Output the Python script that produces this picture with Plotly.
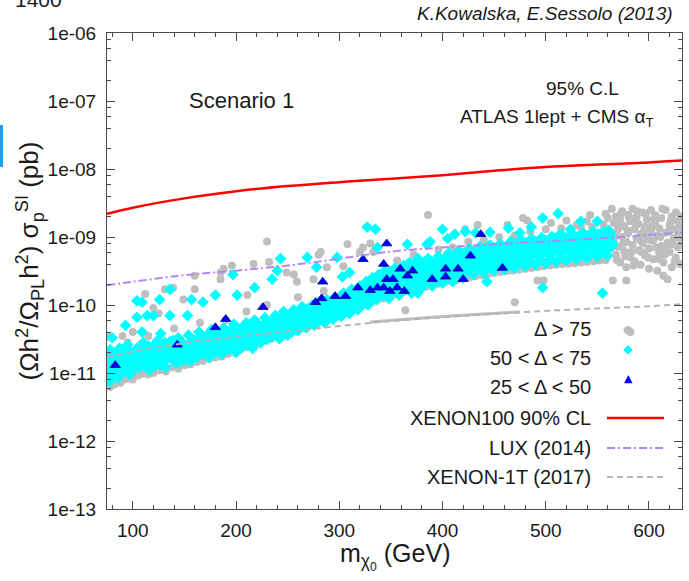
import plotly.graph_objects as go

# ---------------- data ----------------
# Delta > 75 (grey circles): (neutralino mass GeV, scaled sigma_p^SI pb)
gray_pts = [
    (75,6.5e-12),(76,8e-12),(78,6.2e-12),(80,7e-12),(82,6.8e-12),(85,7.6e-12),(88,7.2e-12),(92,8.0e-12),
    (96,8.4e-12),(100,8.0e-12),(105,9.2e-12),(110,9.8e-12),(115,9.5e-12),(120,1.0e-11),(126,1.1e-11),
    (132,1.05e-11),(138,1.2e-11),(144,1.15e-11),(150,1.3e-11),(156,1.35e-11),(162,1.45e-11),(168,1.5e-11),
    (174,1.6e-11),(180,1.7e-11),(186,1.75e-11),(192,1.9e-11),(198,2.0e-11),(204,2.2e-11),(210,2.4e-11),
    (216,2.5e-11),(222,2.7e-11),(228,3.0e-11),(234,3.2e-11),(240,3.4e-11),(246,3.7e-11),(252,4.0e-11),
    (258,4.2e-11),(264,4.6e-11),(270,5.0e-11),(276,5.4e-11),(282,5.8e-11),(288,6.4e-11),(294,7.0e-11),
    (300,7.4e-11),(306,8.0e-11),(312,8.6e-11),(318,9.2e-11),(324,1.0e-10),(330,1.08e-10),(336,1.15e-10),
    (342,1.25e-10),(348,1.35e-10),(354,1.45e-10),(360,1.5e-10),(366,1.6e-10),(372,1.65e-10),(378,1.75e-10),
    (384,1.85e-10),(390,1.95e-10),(396,2.05e-10),(402,2.15e-10),(408,2.25e-10),(414,2.35e-10),(420,2.45e-10),
    (426,2.55e-10),(432,2.65e-10),(438,2.75e-10),(444,2.85e-10),(450,2.95e-10),(456,3.05e-10),(462,3.15e-10),
    (468,3.2e-10),(474,3.3e-10),(480,3.4e-10),(486,3.5e-10),(492,3.6e-10),(498,3.7e-10),(504,3.8e-10),
    (510,3.9e-10),(516,4.0e-10),(522,4.05e-10),(528,4.1e-10),(534,4.2e-10),(540,4.3e-10),(546,4.4e-10),
    (552,4.5e-10),(558,4.6e-10),
    (76,3.4e-11),(112,1.45e-10),(131,1.7e-10),(139,1.8e-10),(120,9e-11),(125,7.5e-11),(149,1.2e-10),
    (160,2.7e-10),(160,1.7e-10),(185,3.0e-10),(188,3.4e-10),(185,2.4e-10),(196,3.8e-10),(211,1.4e-10),
    (217,4.0e-10),(230,8.6e-10),(232,4.3e-10),(249,3.0e-10),(256,2.8e-10),(259,2.2e-10),(275,2.4e-10),
    (280,5.5e-10),(282,6.0e-10),(288,3.6e-10),(304,3.7e-10),(308,7.8e-10),(320,6.0e-10),(323,7.0e-10),
    (330,8.0e-10),(333,6.0e-10),(306,7.7e-11),(386,2.1e-09),(422,1.3e-09),(434,1.5e-09),(463,1.5e-09),
    (478,1.9e-09),(482,1.75e-09),(364,8.4e-11),(470,1.1e-10),(492,2.3e-10),(498,2.3e-10),(543,2.1e-09),
    (534,1.4e-09),(565,2.3e-10),(578,2.3e-10),(582,4.0e-11),
    (356,4.5e-10),(372,5.5e-10),(396,6.5e-10),(410,7.0e-10),(425,8.5e-10),(440,9.0e-10),(455,1.0e-09),
    (470,1.05e-09),(485,1.2e-09),(500,1.3e-09),(515,1.35e-09),(530,1.5e-09),(545,1.4e-09),(540,1.7e-09),
    (520,1.75e-09),(505,1.6e-09),
    (90,3.5e-11),(100,4e-11),(95,2.8e-11),(115,3.5e-11),(140,4.5e-11),(165,5.5e-11),(190,6e-11),
    (210,8e-11),(230,1.0e-10),(260,1.3e-10),(285,1.6e-10),
    (556,1.5e-09),(558,2.2e-09),(560,1.9e-09),(562,1.2e-09),(564,2.6e-09),(566,1.6e-09),(566,9e-10),
    (568,2.0e-09),(568,5.5e-10),(570,1.3e-09),(570,7.2e-10),(572,4.2e-10),(572,1.8e-09),(574,1.0e-09),
    (574,2.4e-09),(576,6.2e-10),(576,1.45e-09),(578,3.6e-10),(578,8.5e-10),(580,2.1e-09),(580,1.15e-09),
    (582,5.0e-10),(582,1.7e-09),(584,7.6e-10),(584,2.6e-09),(586,1.3e-09),(586,4.4e-10),(588,9.6e-10),
    (588,2.0e-09),(590,6.4e-10),(590,1.55e-09),(592,3.9e-10),(592,1.1e-09),(594,2.3e-09),(594,8.0e-10),
    (596,5.4e-10),(596,1.4e-09),(598,1.8e-09),(598,1.0e-09),(600,3.4e-10),(600,6.8e-10),(602,2.5e-09),
    (602,1.25e-09),(604,4.7e-10),(604,8.8e-10),(606,1.6e-09),(606,2.1e-09),(608,3.2e-10),(608,1.05e-09),
    (610,5.8e-10),(610,1.35e-09),(612,7.4e-10),(612,1.9e-09),(614,2.7e-10),(614,4.2e-10),(616,1.15e-09),
    (616,2.5e-09),(618,8.2e-10),(618,2.4e-10),(620,1.5e-09),(620,6.0e-10),(622,2.0e-09),(622,3.6e-10),
    (624,9.6e-10),(624,1.3e-09),(626,5.0e-10),(626,2.3e-09),(628,1.7e-09),(628,7.0e-10),(630,1.1e-09),
    (630,4.0e-10),(631,2.0e-09),(631,8.5e-10),
    (563,7.0e-10),(567,1.1e-09),(571,1.5e-09),(575,8.0e-10),(579,1.25e-09),(583,6.0e-10),(587,1.65e-09),
    (591,9.0e-10),(595,1.2e-09),(599,5.0e-10),(603,1.45e-09),(607,7.0e-10),(611,1.0e-09),(615,5.5e-10),
    (619,1.2e-09),(623,7.8e-10),(627,1.0e-09),(629,1.4e-09),(569,4.6e-10),(577,5.2e-10),(585,3.8e-10),
    (593,6.0e-10),(601,9.0e-10),(609,4.8e-10),(617,6.6e-10),(625,4.4e-10),(573,2.2e-09),(589,2.4e-09),
    (605,1.9e-09),(621,1.7e-09),(613,2.6e-09),(597,2.2e-09),(581,1.9e-09),
]

# dense row of grey points along the lower edge (looks like a solid segment)
gray_row_mass = [330, 360, 400, 440, 475]
gray_row_sigma = [5.6e-11, 6.1e-11, 6.8e-11, 7.4e-11, 7.9e-11]

# 50 < Delta < 75 (cyan diamonds)
cyan_pts = [
    (76,1.0e-11),(77,1.5e-11),(78,2.2e-11),(78,7.5e-12),(79,1.2e-11),(80,1.8e-11),(81,9e-12),(82,1.4e-11),
    (83,2.0e-11),(84,1.1e-11),(85,1.6e-11),(86,8.5e-12),(87,2.3e-11),(88,1.3e-11),(89,1.8e-11),(90,1.0e-11),
    (92,1.5e-11),(93,2.1e-11),(94,1.2e-11),(95,2.6e-11),(96,1.7e-11),(97,9.5e-12),(98,1.35e-11),(99,2.0e-11),
    (100,1.1e-11),
    (80,3.3e-11),(93,5e-11),(104,1.15e-10),(109,1.1e-10),(104,6.6e-11),(114,7e-11),(109,4e-11),(126,1.2e-10),
    (136,1.7e-10),(120,7e-11),(127,3.8e-11),(136,7e-11),(153,7e-11),(157,1.2e-10),(168,1.1e-10),(180,1.4e-10),
    (197,2.8e-10),(201,1.4e-10),(218,1.8e-10),(235,2.4e-10),(240,3.2e-10),(243,4.8e-10),(269,5e-10),
    (278,3.6e-10),(298,5e-10),(303,2.6e-10),(310,3e-10),(327,1.4e-09),(335,1.3e-09),(337,7e-10),
    (400,1.3e-09),(405,9.5e-10),(412,1.1e-09),(422,1.2e-09),(432,1.15e-09),(446,1.17e-09),(464,1.35e-09),
    (475,1.15e-09),(486,1.4e-09),(497,1.9e-09),(512,2.2e-09),(514,1.1e-09),(524,1.3e-09),(534,1.7e-09),
    (550,1.7e-09),(561,1.25e-09),(385,7.8e-10),(388,8.5e-10),(366,7.8e-10),(376,4.8e-10),(443,2.2e-10),
    (497,1.8e-10),(555,1.5e-10),(376,1.5e-10),
    (102,1.6e-11),(104,2.3e-11),(106,1.2e-11),(108,1.9e-11),(110,2.8e-11),(112,1.4e-11),(114,2.1e-11),
    (116,1.1e-11),(118,1.7e-11),(120,2.5e-11),(122,1.3e-11),(124,3.0e-11),(126,1.9e-11),(128,1.5e-11),
    (130,2.4e-11),(132,1.2e-11),(134,2.0e-11),(136,2.9e-11),(138,1.6e-11),(140,2.3e-11),(142,1.4e-11),
    (144,3.3e-11),(146,2.0e-11),(148,1.5e-11),(150,2.6e-11),
    (152,1.8e-11),(154,3.6e-11),(156,1.5e-11),(158,2.2e-11),(160,3.0e-11),(162,1.7e-11),(164,4.0e-11),
    (166,2.5e-11),(168,1.9e-11),(170,3.3e-11),(172,2.1e-11),(174,1.7e-11),(176,4.3e-11),(178,2.8e-11),
    (180,2.0e-11),(182,3.6e-11),(184,2.4e-11),(186,1.9e-11),(188,4.6e-11),(190,3.0e-11),(192,2.2e-11),
    (194,3.9e-11),(196,2.6e-11),(198,5.2e-11),(200,2.0e-11),
    (202,3.3e-11),(204,4.4e-11),(206,2.4e-11),(208,3.7e-11),(210,5.5e-11),(212,2.7e-11),(214,4.1e-11),
    (216,2.3e-11),(218,6.0e-11),(220,3.4e-11),(222,4.8e-11),(224,2.8e-11),(226,3.9e-11),(228,6.5e-11),
    (230,3.1e-11),(232,4.5e-11),(234,5.5e-11),(236,3.5e-11),(238,7.0e-11),(240,4.2e-11),(242,3.2e-11),
    (244,5.8e-11),(246,8.0e-11),(248,4.6e-11),(250,3.6e-11),
    (252,6.5e-11),(254,4.0e-11),(256,8.5e-11),(258,5.2e-11),(260,4.2e-11),(262,7.2e-11),(264,9.5e-11),
    (266,5.6e-11),(268,4.6e-11),(270,8.0e-11),(272,6.2e-11),(274,1.0e-10),(276,5.0e-11),(278,7.0e-11),
    (280,1.1e-10),(282,6.0e-11),(284,8.8e-11),(286,5.5e-11),(288,1.2e-10),(290,7.5e-11),(292,9.5e-11),
    (294,6.2e-11),(296,1.3e-10),(298,8.2e-11),(300,1.05e-10),
    (302,6.8e-11),(304,1.5e-10),(306,9.0e-11),(308,1.2e-10),(310,7.5e-11),(312,1.7e-10),(314,1.0e-10),
    (316,1.35e-10),(318,8.5e-11),(320,1.9e-10),(322,1.15e-10),(324,1.5e-10),(326,2.2e-10),(328,1.0e-10),
    (330,1.3e-10),(332,2.5e-10),(334,1.7e-10),(336,1.2e-10),(338,2.8e-10),(340,1.9e-10),(342,1.4e-10),
    (344,3.2e-10),(346,2.2e-10),(348,1.25e-10),(350,2.6e-10),
    (352,1.6e-10),(354,3.5e-10),(356,2.0e-10),(358,1.4e-10),(360,2.9e-10),(362,3.8e-10),(364,1.7e-10),
    (366,2.4e-10),(368,4.2e-10),(370,1.5e-10),(372,3.1e-10),(374,2.0e-10),(376,4.5e-10),(378,2.6e-10),
    (380,1.8e-10),(382,3.5e-10),(384,2.2e-10),(386,4.8e-10),(388,2.9e-10),(390,1.9e-10),(392,4.0e-10),
    (394,2.5e-10),(396,5.2e-10),(398,3.2e-10),(400,2.1e-10),
    (402,4.4e-10),(404,2.7e-10),(406,5.8e-10),(408,3.5e-10),(410,2.2e-10),(412,4.8e-10),(414,3.0e-10),
    (416,6.2e-10),(418,3.8e-10),(420,2.5e-10),(422,5.2e-10),(424,3.3e-10),(426,6.8e-10),(428,4.2e-10),
    (430,2.8e-10),(432,5.6e-10),(434,3.6e-10),(436,7.2e-10),(438,4.5e-10),(440,3.0e-10),(442,6.0e-10),
    (444,3.9e-10),(446,7.6e-10),(448,4.8e-10),(450,3.2e-10),
    (452,6.4e-10),(454,4.1e-10),(456,8.0e-10),(458,5.1e-10),(460,3.3e-10),(462,6.8e-10),(464,4.4e-10),
    (466,8.6e-10),(468,5.4e-10),(470,3.5e-10),(472,7.2e-10),(474,4.6e-10),(476,9.0e-10),(478,5.7e-10),
    (480,3.7e-10),(482,7.6e-10),(484,4.9e-10),(486,9.4e-10),(488,6.0e-10),(490,3.9e-10),(492,8.0e-10),
    (494,5.2e-10),(496,9.8e-10),(498,6.3e-10),(500,4.1e-10),
    (502,8.4e-10),(504,5.5e-10),(506,1.02e-09),(508,6.6e-10),(510,4.3e-10),(512,8.8e-10),(514,5.8e-10),
    (516,1.06e-09),(518,6.9e-10),(520,4.5e-10),(522,9.2e-10),(524,6.1e-10),(526,1.1e-09),(528,7.2e-10),
    (530,4.7e-10),(532,9.6e-10),(534,6.4e-10),(536,1.15e-09),(538,7.5e-10),(540,4.9e-10),(542,1.0e-09),
    (544,6.7e-10),(546,1.2e-09),(548,7.8e-10),(550,5.1e-10),(552,1.05e-09),(554,7.0e-10),(556,1.2e-09),
    (558,8.0e-10),(560,5.3e-10),(562,1.0e-09),(564,7.2e-10),
    (77,1.9e-11),(79,8.5e-12),(81,1.3e-11),(83,1.7e-11),(85,1.0e-11),(87,1.5e-11),(89,2.2e-11),(91,1.25e-11),
    (93,1.8e-11),(95,1.05e-11),(97,2.0e-11),(99,1.5e-11),
    (101,1.9e-11),(103,1.3e-11),(105,2.0e-11),(107,1.5e-11),(109,2.4e-11),(111,1.7e-11),(113,1.25e-11),
    (115,2.5e-11),(117,1.9e-11),(119,1.4e-11),(121,2.1e-11),(123,1.6e-11),(125,2.6e-11),(127,1.3e-11),
    (129,2.0e-11),(131,2.8e-11),(133,1.6e-11),(135,2.4e-11),(137,1.8e-11),(139,3.0e-11),(141,1.9e-11),
    (143,2.6e-11),(145,1.6e-11),(147,2.9e-11),(149,2.1e-11),
    (151,1.6e-11),(153,2.5e-11),(155,2.0e-11),(157,3.2e-11),(159,1.8e-11),(161,2.6e-11),(163,2.1e-11),
    (165,3.4e-11),(167,2.0e-11),(169,2.7e-11),(171,2.4e-11),(173,3.7e-11),(175,2.2e-11),(177,3.0e-11),
    (179,2.5e-11),(181,4.0e-11),(183,2.1e-11),(185,3.2e-11),(187,2.7e-11),(189,3.6e-11),(191,2.4e-11),
    (193,3.4e-11),(195,4.3e-11),(197,2.9e-11),(199,3.8e-11),
    (201,2.5e-11),(203,4.0e-11),(205,3.0e-11),(207,4.8e-11),(209,2.9e-11),(211,3.9e-11),(213,4.9e-11),
    (215,3.2e-11),(217,4.4e-11),(219,2.9e-11),(221,5.2e-11),(223,3.8e-11),(225,4.8e-11),(227,3.3e-11),
    (229,5.6e-11),(231,4.0e-11),(233,3.4e-11),(235,4.9e-11),(237,6.2e-11),(239,3.7e-11),(241,5.2e-11),
    (243,4.1e-11),(245,6.8e-11),(247,3.9e-11),(249,5.5e-11),
    (251,4.6e-11),(253,7.5e-11),(255,5.3e-11),(257,6.4e-11),(259,4.8e-11),(261,8.2e-11),(263,5.8e-11),
    (265,7.0e-11),(267,5.2e-11),(269,8.8e-11),(271,6.7e-11),(273,5.5e-11),(275,8.4e-11),(277,6.3e-11),
    (279,9.0e-11),(281,7.2e-11),(283,6.4e-11),(285,1.0e-10),(287,7.6e-11),(289,6.6e-11),(291,1.1e-10),
    (293,8.0e-11),(295,1.0e-10),(297,7.0e-11),(299,1.2e-10),
    (301,8.8e-11),(303,1.25e-10),(305,7.8e-11),(307,1.05e-10),(309,1.4e-10),(311,9.2e-11),(313,1.3e-10),
    (315,1.6e-10),(317,1.1e-10),(319,1.45e-10),(321,9.5e-11),(323,1.7e-10),(325,1.25e-10),(327,1.9e-10),
    (329,1.4e-10),(331,1.15e-10),(333,2.0e-10),(335,1.5e-10),(337,2.3e-10),(339,1.6e-10),(341,2.6e-10),
    (343,1.7e-10),(345,2.8e-10),(347,1.8e-10),(349,3.1e-10),
    (351,2.0e-10),(353,2.6e-10),(355,1.55e-10),(357,3.2e-10),(359,2.3e-10),(361,1.7e-10),(363,2.7e-10),
    (365,3.5e-10),(367,2.0e-10),(369,3.0e-10),(371,2.4e-10),(373,3.8e-10),(375,2.2e-10),(377,3.3e-10),
    (379,2.8e-10),(381,4.1e-10),(383,2.5e-10),(385,3.6e-10),(387,2.2e-10),(389,4.4e-10),(391,3.0e-10),
    (393,3.4e-10),(395,2.4e-10),(397,4.6e-10),(399,2.8e-10),
    (401,3.6e-10),(403,5.0e-10),(405,3.0e-10),(407,4.2e-10),(409,2.6e-10),(411,5.4e-10),(413,3.8e-10),
    (415,4.5e-10),(417,2.9e-10),(419,5.8e-10),(421,4.0e-10),(423,3.1e-10),(425,6.0e-10),(427,4.4e-10),
    (429,5.1e-10),(431,3.4e-10),(433,6.4e-10),(435,4.7e-10),(437,5.4e-10),(439,3.6e-10),(441,6.8e-10),
    (443,5.0e-10),(445,3.7e-10),(447,5.8e-10),(449,7.0e-10),
    (451,5.2e-10),(453,3.9e-10),(455,6.1e-10),(457,7.2e-10),(459,4.3e-10),(461,5.5e-10),(463,7.6e-10),
    (465,4.0e-10),(467,6.4e-10),(469,4.8e-10),(471,8.0e-10),(473,5.8e-10),(475,4.2e-10),(477,6.8e-10),
    (479,8.4e-10),(481,5.2e-10),(483,6.2e-10),(485,4.4e-10),(487,7.4e-10),(489,8.8e-10),(491,5.6e-10),
    (493,6.6e-10),(495,4.6e-10),(497,7.8e-10),(499,9.0e-10),
    (501,5.9e-10),(503,7.0e-10),(505,4.8e-10),(507,8.2e-10),(509,9.4e-10),(511,6.2e-10),(513,7.4e-10),
    (515,5.0e-10),(517,8.6e-10),(519,6.5e-10),(521,9.8e-10),(523,7.7e-10),(525,5.3e-10),(527,9.0e-10),
    (529,6.8e-10),(531,1.02e-09),(533,8.0e-10),(535,5.6e-10),(537,9.4e-10),(539,7.1e-10),(541,1.06e-09),
    (543,8.3e-10),(545,5.9e-10),(547,9.7e-10),(549,7.4e-10),(551,1.1e-09),(553,8.6e-10),(555,6.2e-10),
    (557,9.9e-10),(559,6.6e-10),(561,8.9e-10),(563,1.1e-09),(565,8.0e-10),
]

# 25 < Delta < 50 (blue triangles)
blue_pts = [
    (83,1.3e-11),(143,2.6e-11),(180,4.7e-11),(190,6.2e-11),(226,9.3e-11),(277,1.1e-10),(283,1.25e-10),
    (284,2.2e-10),(296,1.35e-10),(306,1.35e-10),(318,1.8e-10),(323,4.7e-10),(330,1.65e-10),(337,1.8e-10),
    (343,4.0e-10),(346,8.0e-10),(346,2.4e-10),(352,2.4e-10),(343,1.8e-10),(349,1.6e-10),(356,1.8e-10),
    (363,1.6e-10),(359,3.4e-10),(366,2.7e-10),(371,3.2e-10),(390,2.4e-10),(403,3.4e-10),(403,2.6e-10),
    (415,3.4e-10),(420,2.4e-10),(427,5.3e-10),(437,1.1e-09),(458,3.5e-10),
]

# exclusion / projected limits
xenon100_mass = [75, 100, 150, 200, 250, 300, 350, 400, 450, 500, 550, 600, 632]
xenon100_sigma = [2.2e-9, 2.7e-9, 3.7e-9, 4.7e-9, 5.6e-9, 6.4e-9, 7.2e-9, 8.1e-9, 9.4e-9, 1.07e-8, 1.16e-8, 1.25e-8, 1.33e-8]
lux_mass = [75, 100, 150, 200, 250, 300, 350, 400, 450, 500, 550, 600, 632]
lux_sigma = [1.95e-10, 2.2e-10, 2.75e-10, 3.2e-10, 3.8e-10, 4.8e-10, 6.1e-10, 7.0e-10, 7.8e-10, 8.6e-10, 9.5e-10, 1.07e-9, 1.17e-9]
xenon1t_mass = [75, 100, 150, 200, 250, 300, 350, 400, 450, 500, 550, 600, 632]
xenon1t_sigma = [1.7e-11, 2.05e-11, 2.75e-11, 3.4e-11, 4.1e-11, 4.9e-11, 5.8e-11, 6.6e-11, 7.4e-11, 8.2e-11, 8.9e-11, 9.6e-11, 1.03e-10]

y_tick_vals = [1e-13, 1e-12, 1e-11, 1e-10, 1e-09, 1e-08, 1e-07, 1e-06]
y_tick_text = ["1e-13", "1e-12", "1e-11", "1e-10", "1e-09", "1e-08", "1e-07", "1e-06"]
x_tick_vals = [100, 200, 300, 400, 500, 600]

legend_labels = ["\u0394 > 75", "50 < \u0394 < 75", "25 < \u0394 < 50",
                 "XENON100 90% CL", "LUX (2014)", "XENON-1T (2017)"]

# ---------------- styling helpers ----------------
FONT = "Liberation Sans, Arial, Helvetica, sans-serif"
TXT = "#1a1a1a"
FRAME = "#4a4a4a"
GRAY = "#BEBEBE"
CYAN = "#00FFFF"
BLUE = "#0000FF"
RED = "#FF0000"
LUXC = "#B585F5"
X1TC = "#B4B4B4"

W_FIG, H_FIG = 689, 581
L, R, T, B = 107, 682, 33, 509
PW, PH = R - L, B - T


def px_x(p):
    return (p - L) / PW


def px_y(p):
    return (B - p) / PH


def unzip(pts):
    return [p[0] for p in pts], [p[1] for p in pts]


fig = go.Figure()

gx, gy = unzip(gray_pts)
fig.add_trace(go.Scatter(x=gx, y=gy, mode="markers", name=legend_labels[0],
                         marker=dict(symbol="circle", size=8, color=GRAY, line=dict(width=0))))
fig.add_trace(go.Scatter(x=gray_row_mass, y=gray_row_sigma, mode="lines", showlegend=False,
                         line=dict(color=GRAY, width=3)))
cx, cy = unzip(cyan_pts)
fig.add_trace(go.Scatter(x=cx, y=cy, mode="markers", name=legend_labels[1],
                         marker=dict(symbol="diamond", size=9, color=CYAN, line=dict(width=0))))
bx, by = unzip(blue_pts)
fig.add_trace(go.Scatter(x=bx, y=by, mode="markers", name=legend_labels[2],
                         marker=dict(symbol="triangle-up", size=9, color=BLUE,
                                     line=dict(width=0.8, color="#000080"))))

fig.add_trace(go.Scatter(x=xenon1t_mass, y=xenon1t_sigma, mode="lines", name=legend_labels[5],
                         line=dict(color=X1TC, width=2, dash="6px,4px", shape="spline")))
fig.add_trace(go.Scatter(x=lux_mass, y=lux_sigma, mode="lines", name=legend_labels[4],
                         line=dict(color=LUXC, width=2, dash="8px,3px,2px,3px", shape="spline")))
fig.add_trace(go.Scatter(x=xenon100_mass, y=xenon100_sigma, mode="lines", name=legend_labels[3],
                         line=dict(color=RED, width=2.5, shape="spline")))

# y minor ticks at 2,4,6,8 x 10^n
y_minor = []
for e in range(-13, -6):
    for k in (2, 4, 6, 8):
        y_minor.append(k * 10.0 ** e)

axis_common = dict(showgrid=False, zeroline=False, showline=True, linecolor=FRAME, linewidth=1,
                   mirror="allticks", ticks="inside", ticklen=8, tickwidth=1, tickcolor=FRAME,
                   tickfont=dict(family=FONT, size=19, color=TXT))

fig.update_layout(
    width=W_FIG, height=H_FIG,
    margin=dict(l=L, r=W_FIG - R, t=T, b=H_FIG - B),
    paper_bgcolor="white", plot_bgcolor="white",
    showlegend=False,
    xaxis=dict(range=[75, 632], tickmode="array", tickvals=x_tick_vals,
               ticklabelstandoff=4,
               minor=dict(ticks="inside", dtick=20, tick0=0, ticklen=4, tickcolor=FRAME, showgrid=False),
               **axis_common),
    yaxis=dict(type="log", range=[-13, -6], tickmode="array", tickvals=y_tick_vals, ticktext=y_tick_text,
               ticklabelstandoff=6,
               minor=dict(ticks="inside", tickmode="array", tickvals=y_minor, ticklen=4,
                          tickcolor=FRAME, showgrid=False),
               **axis_common),
)

ann = []


def text(t, x, y, size=18, xanchor="center", yanchor="middle", angle=0, italic=False):
    ann.append(dict(text=("<i>%s</i>" % t) if italic else t, x=x, y=y, xref="paper", yref="paper",
                    showarrow=False, xanchor=xanchor, yanchor=yanchor, textangle=angle,
                    font=dict(family=FONT, size=size, color=TXT)))


text("K.Kowalska, E.Sessolo (2013)", px_x(675), px_y(14), size=19, xanchor="right", italic=True)
text("1400", px_x(38), px_y(-1), size=21)
text("Scenario 1", px_x(241), px_y(100), size=22)
text("95% C.L", px_x(621), px_y(88), size=19, xanchor="right")
text("ATLAS 1lept + CMS \u03b1<sub>T</sub>", px_x(656), px_y(118), size=19, xanchor="right")
text("(\u03a9h<sup>2</sup>/\u03a9<sub>PL</sub>h<sup>2</sup>) \u03c3<sub>p</sub><sup>SI</sup> (pb)",
     px_x(30), 0.52, size=26, angle=-90)
text("m<sub>\u03c7<sub>0</sub></sub> (GeV)", 0.5, px_y(556), size=25)

# manual legend (text right-aligned, sample on the right)
rows = [329, 358, 387, 418, 448, 477]
for lab, yy in zip(legend_labels, rows):
    text(lab, px_x(593), px_y(yy), size=20, xanchor="right")

sym_x = px_x(635)
ann.append(dict(text="\u25cf", x=sym_x, y=px_y(rows[0]), xref="paper", yref="paper", showarrow=False,
                font=dict(family="DejaVu Sans", size=11, color=GRAY)))
ann.append(dict(text="\u25c6", x=sym_x, y=px_y(rows[1]), xref="paper", yref="paper", showarrow=False,
                font=dict(family="DejaVu Sans", size=12, color=CYAN)))
ann.append(dict(text="\u25b2", x=sym_x, y=px_y(rows[2]), xref="paper", yref="paper", showarrow=False,
                font=dict(family="DejaVu Sans", size=11, color=BLUE)))

shapes = []
for yy, col, dash, wd in [(rows[3], RED, "solid", 2.5), (rows[4], LUXC, "8px,3px,2px,3px", 2),
                          (rows[5], X1TC, "6px,4px", 2)]:
    shapes.append(dict(type="line", xref="paper", yref="paper", x0=px_x(607), x1=px_x(664),
                       y0=px_y(yy), y1=px_y(yy), line=dict(color=col, width=wd, dash=dash)))
# small blue bar at the left edge of the page
shapes.append(dict(type="rect", xref="paper", yref="paper", x0=px_x(0), x1=px_x(3),
                   y0=px_y(167), y1=px_y(125), line=dict(width=0), fillcolor="#1AA0F0"))

fig.update_layout(annotations=ann, shapes=shapes)
fig.write_html("out.html")
